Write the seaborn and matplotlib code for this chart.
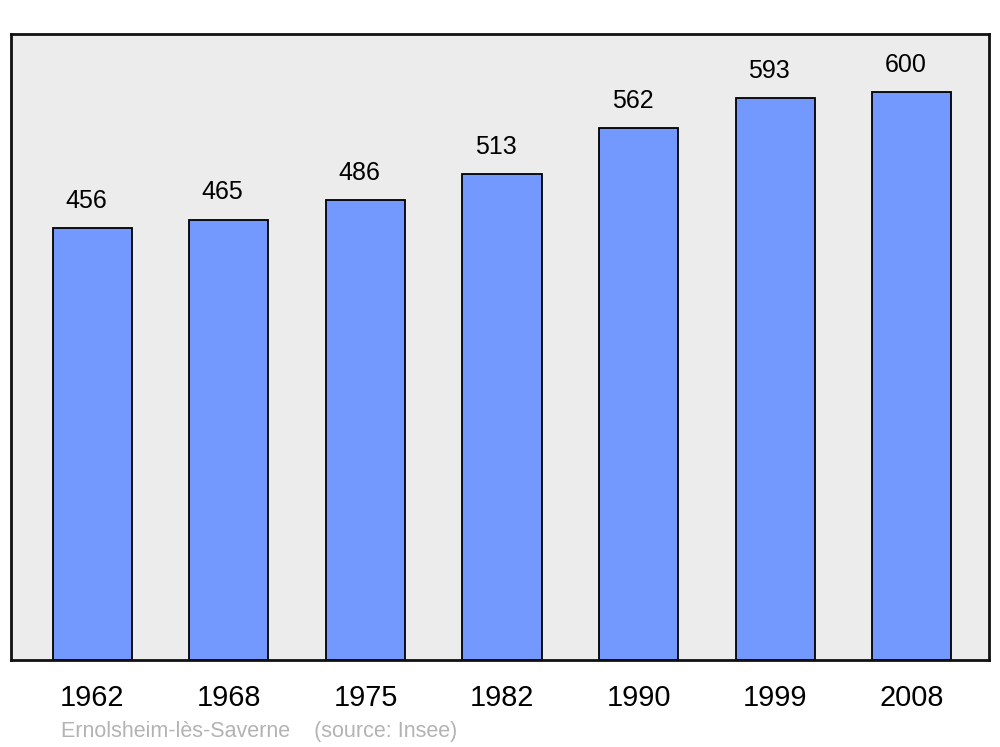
import seaborn as sns
import matplotlib.pyplot as plt
import pandas as pd

years = ['1962', '1968', '1975', '1982', '1990', '1999', '2008']
population = [456, 465, 486, 513, 562, 593, 600]
footer = 'Ernolsheim-lès-Saverne    (source: Insee)'

df = pd.DataFrame({'year': years, 'population': population})

sns.set_style('white')
plt.rcParams['font.family'] = ['Liberation Sans', 'DejaVu Sans']

fig = plt.figure(figsize=(10, 7.47), dpi=100)
ax = fig.add_axes([11 / 1000, 87 / 747, 978 / 1000, 626 / 747])
ax.set_facecolor('#ececec')

sns.barplot(data=df, x='year', y='population', color='#7399ff', saturation=1,
            width=0.58, edgecolor='black', linewidth=1.3, ax=ax)

for i, v in enumerate(population):
    ax.annotate(str(v), (i, v), xytext=(-4.5, 14.5), textcoords='offset points',
                ha='center', va='baseline', fontsize=18, color='black')

ax.set_xlim(-0.595, 6.565)
ax.set_ylim(0, 661)
ax.set_yticks([])
ax.set_xlabel('')
ax.set_ylabel('')
ax.tick_params(axis='x', length=0, pad=17, labelsize=20.8, labelcolor='black')
for s in ax.spines.values():
    s.set_visible(True)
    s.set_linewidth(2)
    s.set_color('#111111')

fig.text(61 / 1000, 10 / 747, footer, fontsize=15.5, color='#b3b3b3',
         ha='left', va='baseline')

fig.savefig('out.png', dpi=100)
